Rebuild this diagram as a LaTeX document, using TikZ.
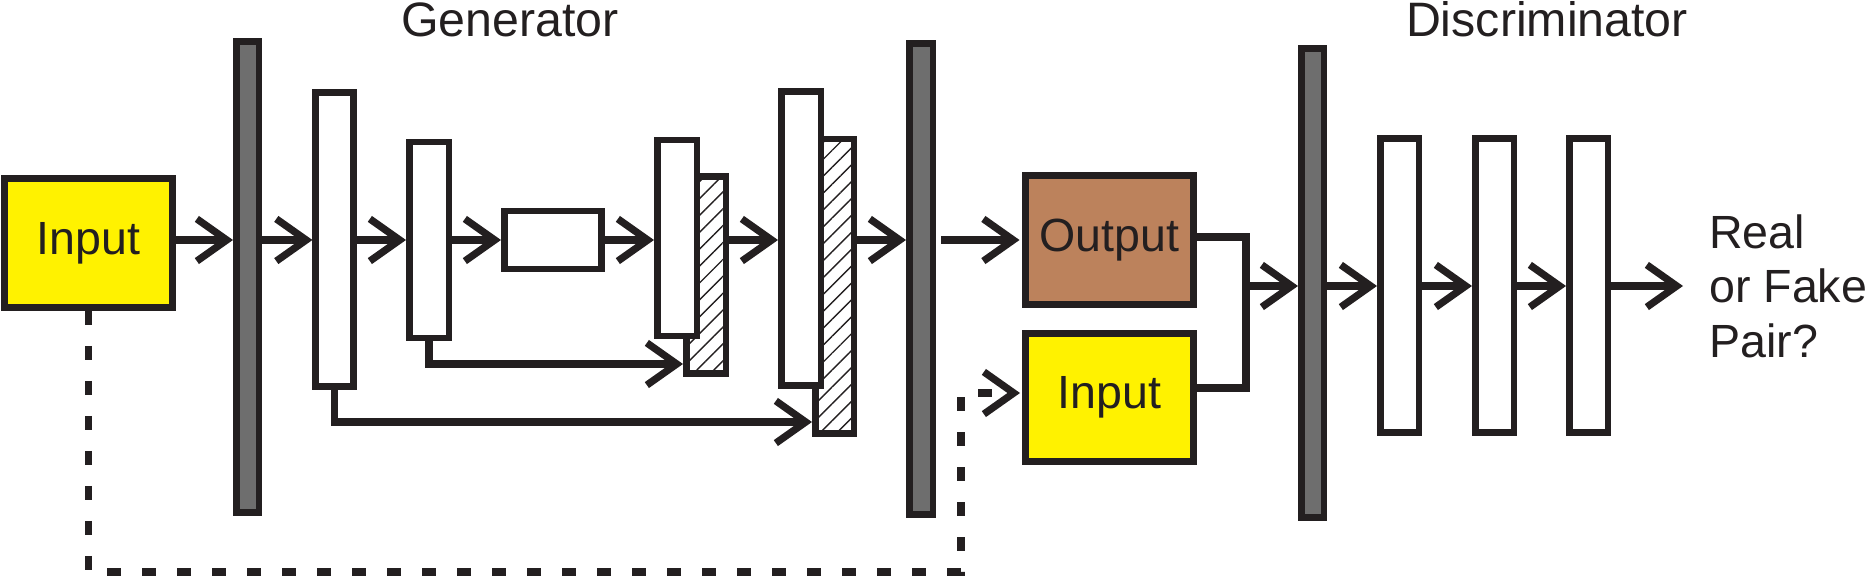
\documentclass[tikz,border=0pt]{standalone}
\usepackage{fontspec}
\setmainfont{Liberation Sans}
\usetikzlibrary{arrows.meta,patterns.meta,calc}
\definecolor{ink}{RGB}{35,31,32}
\definecolor{barg}{RGB}{110,110,110}
\definecolor{inyellow}{RGB}{255,242,0}
\definecolor{outbrown}{RGB}{188,130,92}
\begin{document}
\begin{tikzpicture}[x=0.02cm,y=-0.02cm,
  box/.style={draw=ink, line width=1.3mm, fill=white, outer sep=0.65mm, inner sep=0pt},
  bar/.style={box, fill=barg},
  hatchbox/.style={box, pattern={Lines[angle=45,distance=6.8pt,line width=0.8pt]}, pattern color=ink},
  txt/.style={font=\fontsize{26.5}{31}\selectfont, text=ink},
  title/.style={font=\fontsize{27.5}{32}\selectfont, text=ink, inner sep=0pt},
  conn/.style={draw=ink, line width=1.45mm},
  tip/.style={-{Straight Barb[length=17pt,width=24pt]}},
  arr/.style={conn, tip},
  dsh/.style={conn, dash pattern=on 0.28cm off 0.42cm}
]
\useasboundingbox (0,0) rectangle (1870,577);

% rows
\coordinate (rowG) at (0,240);
\coordinate (rowD) at (0,286);

% titles
\node[title, anchor=base] (gen) at (510,37) {Generator};
\node[title, anchor=base] (dis) at (1547,37) {Discriminator};

% generator
\node[box, fill=inyellow, txt, minimum width=3.37cm, minimum height=2.59cm] (inA) at (88.5,243) {Input};
\node[bar, minimum width=0.45cm, minimum height=9.43cm] (gbar1) at (247.5,277) {};
\node[box, minimum width=0.76cm, minimum height=5.89cm] (b1) at (334.7,239.5) {};
\node[box, minimum width=0.79cm, minimum height=3.92cm] (b2) at (429,239.8) {};
\node[box, minimum width=1.95cm, minimum height=1.16cm] (b3) at (553,240) {};
\node[hatchbox, minimum width=0.79cm, minimum height=3.95cm] (h4) at (706,275) {};
\node[box, minimum width=0.79cm, minimum height=3.92cm] (b4) at (677,238) {};
\node[hatchbox, minimum width=0.77cm, minimum height=5.89cm] (h5) at (834.5,286.3) {};
\node[box, minimum width=0.79cm, minimum height=5.89cm] (b5) at (801,238.5) {};
\node[bar, minimum width=0.47cm, minimum height=9.43cm] (gbar2) at (921,279) {};

% pair
\node[box, fill=outbrown, txt, minimum width=3.37cm, minimum height=2.59cm] (out) at (1109.5,240) {Output};
\node[box, fill=inyellow, txt, minimum width=3.37cm, minimum height=2.57cm] (in2) at (1109.5,397.5) {Input};

% discriminator
\node[bar, minimum width=0.45cm, minimum height=9.39cm] (gbar3) at (1312.5,283) {};
\node[box, minimum width=0.77cm, minimum height=5.89cm] (d1) at (1399.5,285.5) {};
\node[box, minimum width=0.77cm, minimum height=5.89cm] (d2) at (1494.5,285.5) {};
\node[box, minimum width=0.77cm, minimum height=5.89cm] (d3) at (1588.5,285.5) {};
\node[txt, inner sep=0pt, anchor=north west, align=left] (res) at (1709,214) {Real\\or Fake\\Pair?};
\coordinate (end) at (1683,286);

% generator arrows
\draw[arr] (inA.east |- rowG) -- (gbar1.west |- rowG);
\draw[arr] (gbar1.east |- rowG) -- (b1.west |- rowG);
\draw[arr] (b1.east |- rowG) -- (b2.west |- rowG);
\draw[arr] (b2.east |- rowG) -- (b3.west |- rowG);
\draw[arr] (b3.east |- rowG) -- (b4.west |- rowG);
\draw[arr] (h4.east |- rowG) -- (b5.west |- rowG);
\draw[arr] (h5.east |- rowG) -- (gbar2.west |- rowG);
\draw[arr, shorten <=0.1cm, shorten >=0.05cm] (gbar2.east |- rowG) -- (out.west |- rowG);

% skip connections
\coordinate (s1) at (0,364);
\coordinate (s2) at (0,422);
\draw[arr] (b2.south) |- (h4.west |- s1);
\draw[arr] (b1.south) |- (h5.west |- s2);

% merge
\coordinate (mo) at (0,237);
\coordinate (mi) at (0,388);
\coordinate (mx) at (1246,0);
\draw[conn] (out.east |- mo) -| (mx |- mi) -- (in2.east |- mi);
\draw[arr] (mx |- rowD) -- (gbar3.west |- rowD);

% dashed input
\coordinate (dl) at (961,572);
\coordinate (da) at (0,393);
\draw[dsh, tip, shorten >=0.04cm] (inA.south) |- (dl) |- (in2.west |- da);

% discriminator arrows
\draw[arr] (gbar3.east |- rowD) -- (d1.west |- rowD);
\draw[arr] (d1.east |- rowD) -- (d2.west |- rowD);
\draw[arr] (d2.east |- rowD) -- (d3.west |- rowD);
\draw[arr] (d3.east |- rowD) -- (end);
\end{tikzpicture}
\end{document}
